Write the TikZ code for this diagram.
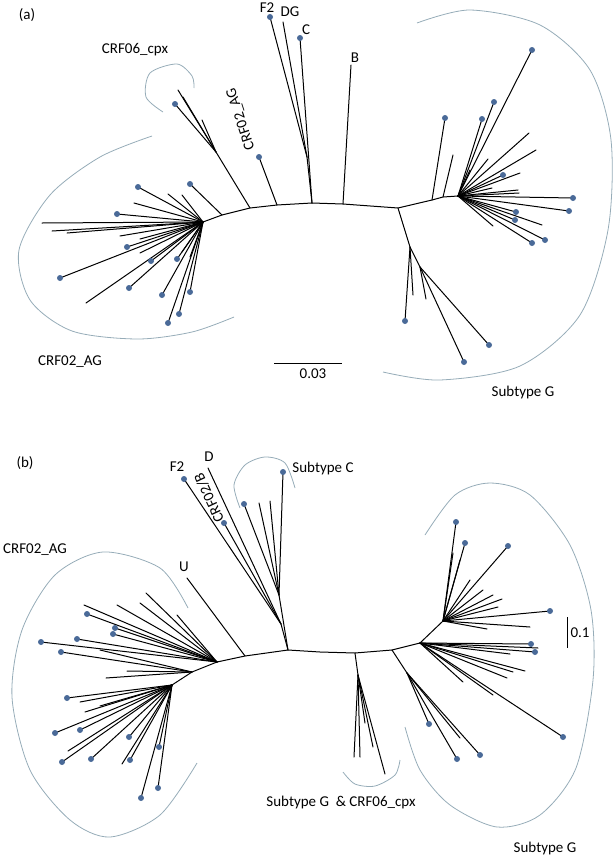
\documentclass[tikz,border=0pt]{standalone}
\usepackage{fontspec}
\setmainfont{Carlito}
\usepackage{tikz}
\usetikzlibrary{positioning, calc}
\definecolor{DotBlue}{RGB}{74,106,152}
\definecolor{ArcGrey}{RGB}{150,172,184}

\begin{document}
\begin{tikzpicture}[x=1pt, y=-1pt,
	Branch/.style={line width=1pt, black, line cap=round},
	TipDot/.style={circle, fill=DotBlue, inner sep=0pt, minimum size=6pt},
	CladeArc/.style={line width=0.8pt, draw=ArcGrey},
	TreeLabel/.style={font=\fontsize{15}{17}\selectfont, inner sep=0pt}]

	\useasboundingbox (0,0) rectangle (615,857);

	% ---------- panel (a) ----------
	% Nodes
	\coordinate (aHubL) at (203,222);
	\coordinate (aJ0) at (222,215);
	\coordinate (aJ1) at (250,208);
	\coordinate (aJ2) at (277,205);
	\coordinate (aJ3) at (312,203);
	\coordinate (aJ4) at (343,204);
	\coordinate (aSplit) at (398,208);
	\coordinate (aR1) at (432,200);
	\coordinate (aR2) at (443,197);
	\coordinate (aHubR) at (458,196);
	\coordinate (aD1) at (410,247);
	\coordinate (aD2) at (420,267);
	\coordinate (aCpx) at (216,152);
	\coordinate (aFD) at (307,157);

	% Backbone
	\draw[Branch] (aHubL) -- (aJ0) -- (aJ1) -- (aJ2) -- (aJ3) -- (aJ4) -- (aSplit)
		-- (aR1) -- (aR2) -- (aHubR);
	\draw[Branch] (aSplit) -- (aD1) -- (aD2);
	\draw[Branch] (aJ1) -- (aCpx);
	\draw[Branch] (aJ3) -- (aFD);

	% Tips
	\foreach \x/\y/\d [count=\i] in {168/194/0, 182/195/0, 134/203/0, 42/223/0, 52/231/0,
		67/233/0, 120/236/0, 140/239/0, 140/253/0, 86/303/0, 182/252/0, 190/257/0,
		138/187/1, 117/214/1, 127/247/1, 151/261/1, 60/278/1, 129/288/1, 162/295/1,
		177/259/1, 190/292/1, 179/314/1, 168/323/1} {
		\coordinate (aL\i) at (\x,\y);
		\draw[Branch] (aHubL) -- (aL\i);
		\ifnum\d=1 \node[TipDot] at (aL\i) {}; \fi
	}
	\coordinate (aT0) at (190,184);
	\draw[Branch] (aJ0) -- (aT0);
	\node[TipDot] at (aT0) {};

	\foreach \x/\y/\d [count=\i] in {178/90/0, 183/97/0, 202/120/0, 175/104/1} {
		\coordinate (aC\i) at (\x,\y);
		\draw[Branch] (aCpx) -- (aC\i);
		\ifnum\d=1 \node[TipDot] at (aC\i) {}; \fi
	}

	\coordinate (aAG) at (259,157);
	\draw[Branch] (aJ2) -- (aAG);
	\node[TipDot] at (aAG) {};

	\coordinate (aF2) at (270,17);
	\coordinate (aDG) at (283,22);
	\coordinate (aC) at (300,38);
	\coordinate (aB) at (351,65);
	\draw[Branch] (aFD) -- (aF2);
	\draw[Branch] (aFD) -- (aDG);
	\draw[Branch] (aJ3) -- (aC);
	\draw[Branch] (aJ4) -- (aB);
	\node[TipDot] at (aF2) {};
	\node[TipDot] at (aC) {};

	\coordinate (aRt1) at (445,118);
	\coordinate (aRt2) at (453,155);
	\draw[Branch] (aR1) -- (aRt1);
	\draw[Branch] (aR2) -- (aRt2);
	\node[TipDot] at (aRt1) {};

	\foreach \x/\y/\d [count=\i] in {529/133/0, 536/150/0, 520/173/0, 488/159/0, 470/170/0,
		492/188/0, 518/190/0, 519/193/0, 542/225/0, 493/226/0,
		532/50/1, 494/102/1, 482/119/1, 503/175/1, 573/198/1, 569/211/1,
		516/212/1, 515/220/1, 545/240/1, 532/243/1} {
		\coordinate (aR\i) at (\x,\y);
		\draw[Branch] (aHubR) -- (aR\i);
		\ifnum\d=1 \node[TipDot] at (aR\i) {}; \fi
	}

	\foreach \x/\y/\d [count=\i] in {405/321/1, 413/295/0} {
		\coordinate (aDa\i) at (\x,\y);
		\draw[Branch] (aD1) -- (aDa\i);
		\ifnum\d=1 \node[TipDot] at (aDa\i) {}; \fi
	}
	\foreach \x/\y/\d [count=\i] in {426/299/0, 464/362/1, 489/345/1} {
		\coordinate (aDb\i) at (\x,\y);
		\draw[Branch] (aD2) -- (aDb\i);
		\ifnum\d=1 \node[TipDot] at (aDb\i) {}; \fi
	}

	% Clade arcs
	\draw[CladeArc] plot[smooth] coordinates {(163,112) (146,97) (150,73) (177,64) (192,76) (194,88)};
	\draw[CladeArc] plot[smooth] coordinates {(152,136) (100,157) (50,195) (19,250) (30,300)
		(72,331) (137,339) (192,332) (234,317)};
	\draw[CladeArc] plot[smooth] coordinates {(417,23) (470,10) (540,25) (590,70) (611,140)
		(608,230) (580,315) (520,366) (440,380) (383,372)};

	% Scale bar
	\coordinate (aBarL) at (274,363);
	\coordinate (aBarR) at (342,363);
	\draw[line width=0.7pt] (aBarL) -- (aBarR);

	% Labels
	\node[TreeLabel] (aTag) at (27,15) {(a)};
	\node[TreeLabel] (aLabF2) at (267,8) {F2};
	\node[TreeLabel] (aLabDG) at (290,12) {DG};
	\node[TreeLabel] (aLabC) at (306,30) {C};
	\node[TreeLabel] (aLabB) at (355,58) {B};
	\node[TreeLabel] (aLabCpx) at (135,50) {CRF06\_cpx};
	\node[TreeLabel, rotate=108] (aLabAGr) at (241,119) {CRF02\_AG};
	\node[TreeLabel] (aLabAG) at (70,362) {CRF02\_AG};
	\node[TreeLabel] (aLabG) at (523,392) {Subtype G};
	\node[TreeLabel] (aLabBar) at (313,374) {0.03};

	% ---------- panel (b) ----------
	% Nodes
	\coordinate (bHubL) at (172,685);
	\coordinate (bJ1) at (192,672);
	\coordinate (bJ2) at (217,662);
	\coordinate (bJ3) at (245,656);
	\coordinate (bJ4) at (288,650);
	\coordinate (bJ5) at (320,652);
	\coordinate (bJ6) at (355,653);
	\coordinate (bJ7) at (392,650);
	\coordinate (bJ8) at (420,643);
	\coordinate (bHubUR) at (443,621);
	\coordinate (bFn) at (281,624);
	\coordinate (bCn) at (279,595);
	\coordinate (bMid) at (358,675);
	\coordinate (bLR) at (407,673);

	% Backbone
	\draw[Branch] (bHubL) -- (bJ1) -- (bJ2) -- (bJ3) -- (bJ4) -- (bJ5) -- (bJ6) -- (bJ7)
		-- (bJ8) -- (bHubUR);
	\draw[Branch] (bJ4) -- (bFn);
	\draw[Branch] (bJ4) -- (bCn);
	\draw[Branch] (bJ6) -- (bMid);
	\draw[Branch] (bJ7) -- (bLR);

	% Tips
	\foreach \x/\y/\d [count=\i] in {84/605/0, 117/605/0, 140/603/0, 146/593/0, 177/615/0,
		87/614/1, 115/628/1, 113/634/1, 77/639/1, 41/642/1} {
		\coordinate (bU\i) at (\x,\y);
		\draw[Branch] (bJ2) -- (bU\i);
		\ifnum\d=1 \node[TipDot] at (bU\i) {}; \fi
	}
	\foreach \x/\y/\d [count=\i] in {61/652/1, 100/650/0, 127/671/0, 106/678/0} {
		\coordinate (bV\i) at (\x,\y);
		\draw[Branch] (bJ1) -- (bV\i);
		\ifnum\d=1 \node[TipDot] at (bV\i) {}; \fi
	}
	\foreach \x/\y/\d [count=\i] in {80/702/0, 85/712/0, 100/706/0, 68/751/0, 122/764/0,
		67/698/1, 55/733/1, 80/730/1, 62/762/1, 91/759/1, 129/737/1, 130/760/1,
		159/747/1, 158/788/1, 141/798/1} {
		\coordinate (bL\i) at (\x,\y);
		\draw[Branch] (bHubL) -- (bL\i);
		\ifnum\d=1 \node[TipDot] at (bL\i) {}; \fi
	}

	\coordinate (bU) at (187,578);
	\draw[Branch] (bJ3) -- (bU);

	\coordinate (bF2) at (184,479);
	\coordinate (bD) at (208,468);
	\coordinate (bCB) at (224,523);
	\draw[Branch] (bFn) -- (bF2);
	\draw[Branch] (bFn) -- (bD);
	\draw[Branch] (bFn) -- (bCB);
	\node[TipDot] at (bF2) {};
	\node[TipDot] at (bCB) {};

	\foreach \x/\y/\d [count=\i] in {244/504/1, 259/503/0, 270/501/0, 283/472/1} {
		\coordinate (bC\i) at (\x,\y);
		\draw[Branch] (bCn) -- (bC\i);
		\ifnum\d=1 \node[TipDot] at (bC\i) {}; \fi
	}

	\foreach \x/\y [count=\i] in {354/757, 360/757, 373/747, 385/774, 365/723} {
		\coordinate (bM\i) at (\x,\y);
		\draw[Branch] (bMid) -- (bM\i);
	}

	\foreach \x/\y/\d [count=\i] in {429/724/1, 457/759/1, 480/755/1, 460/738/0} {
		\coordinate (bLr\i) at (\x,\y);
		\draw[Branch] (bLR) -- (bLr\i);
		\ifnum\d=1 \node[TipDot] at (bLr\i) {}; \fi
	}

	\foreach \x/\y/\d [count=\i] in {538/648/0, 510/654/0, 525/671/0, 513/672/0, 507/678/0,
		493/695/0, 463/682/0, 531/644/1, 535/652/1, 563/737/1} {
		\coordinate (bR\i) at (\x,\y);
		\draw[Branch] (bJ8) -- (bR\i);
		\ifnum\d=1 \node[TipDot] at (bR\i) {}; \fi
	}

	\foreach \x/\y/\d [count=\i] in {470/580/0, 483/590/0, 493/595/0, 502/599/0, 498/607/0,
		460/560/0, 453/553/0, 530/627/0, 487/629/0,
		456/522/1, 465/543/1, 508/546/1, 550/611/1} {
		\coordinate (bQ\i) at (\x,\y);
		\draw[Branch] (bHubUR) -- (bQ\i);
		\ifnum\d=1 \node[TipDot] at (bQ\i) {}; \fi
	}

	% Clade arcs
	\draw[CladeArc] plot[smooth] coordinates {(240,508) (234,485) (245,465) (265,457) (285,463) (295,488)};
	\draw[CladeArc] plot[smooth] coordinates {(188,608) (160,568) (103,552) (55,575) (22,630)
		(12,697) (30,770) (70,820) (110,837) (160,815) (197,763)};
	\draw[CladeArc] plot[smooth] coordinates {(343,772) (355,784) (375,786) (395,775) (400,760)};
	\draw[CladeArc] plot[smooth] coordinates {(425,535) (455,495) (490,483) (530,495) (570,545)
		(591,610) (593,680) (576,768) (540,815) (497,827) (450,805) (420,770) (405,727)};

	% Scale bar
	\coordinate (bBarT) at (567,617);
	\coordinate (bBarB) at (567,648);
	\draw[line width=0.7pt] (bBarT) -- (bBarB);

	% Labels
	\node[TreeLabel] (bTag) at (25,463) {(b)};
	\node[TreeLabel] (bLabF2) at (177,467) {F2};
	\node[TreeLabel] (bLabD) at (209,457) {D};
	\node[TreeLabel, rotate=115] (bLabCB) at (209,498) {CRF02/B};
	\node[TreeLabel] (bLabU) at (184,567) {U};
	\node[TreeLabel] (bLabAG) at (35,550) {CRF02\_AG};
	\node[TreeLabel] (bLabC) at (323,468) {Subtype C};
	\node[TreeLabel] (bLabGC) at (341,802) {Subtype G \ \& CRF06\_cpx};
	\node[TreeLabel] (bLabG) at (545,848) {Subtype G};
	\node[TreeLabel] (bLabBar) at (580,633) {0.1};
\end{tikzpicture}
\end{document}
